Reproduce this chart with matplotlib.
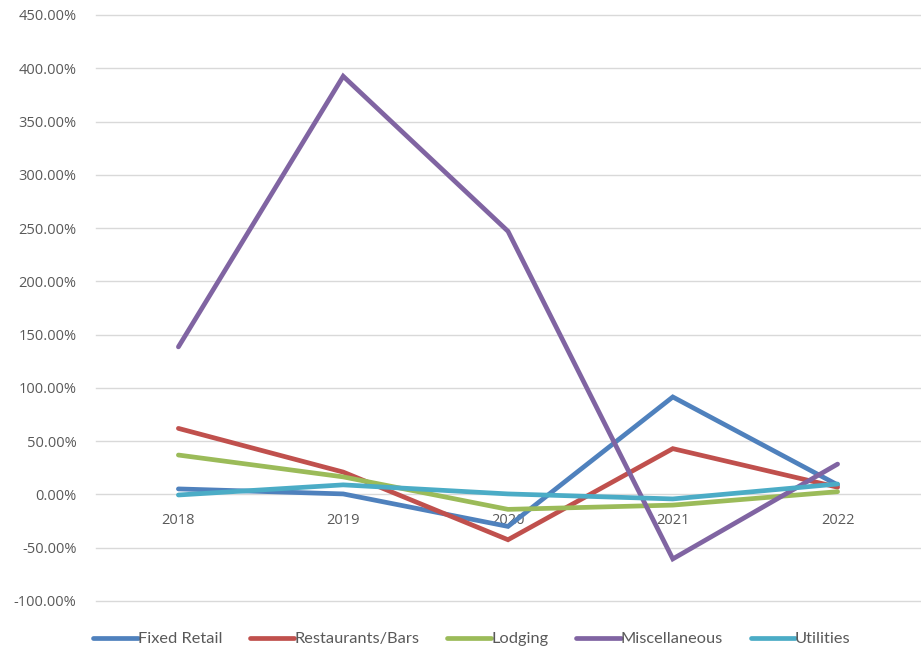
import matplotlib
matplotlib.use("Agg")
import matplotlib.pyplot as plt
from matplotlib.ticker import FuncFormatter, MultipleLocator

years = ["2018", "2019", "2020", "2021", "2022"]
fixed_retail = [5.2, 0.5, -30.0, 91.5, 9.0]
restaurants_bars = [62.0, 21.0, -42.5, 43.0, 6.8]
lodging = [37.0, 16.5, -14.0, -10.0, 2.6]
miscellaneous = [138.5, 392.5, 247.0, -60.5, 28.5]
utilities = [-0.5, 9.0, 0.5, -4.2, 9.8]

series = [
    ("Fixed Retail", fixed_retail, "#4F81BD"),
    ("Restaurants/Bars", restaurants_bars, "#C0504D"),
    ("Lodging", lodging, "#9BBB59"),
    ("Miscellaneous", miscellaneous, "#8064A2"),
    ("Utilities", utilities, "#4BACC6"),
]

W, H = 921, 652
fig = plt.figure(figsize=(W / 100, H / 100), dpi=100)
ax = fig.add_axes([96 / W, 1 - 601 / H, (920 - 96) / W, (601 - 15) / H])

x = list(range(len(years)))
for name, vals, col in series:
    ax.plot(x, vals, color=col, lw=3.4, label=name, solid_capstyle="round",
            solid_joinstyle="miter")

ax.set_xlim(-0.5, len(years) - 0.5)
ax.set_ylim(-100, 450)
ax.yaxis.set_major_locator(MultipleLocator(50))
ax.yaxis.set_major_formatter(FuncFormatter(lambda v, p: f"{v:.2f}%"))
ax.grid(axis="y", color="#D9D9D9", lw=1.0)
ax.set_axisbelow(True)
for gl in ax.get_ygridlines():
    gl.set_clip_on(False)
for s in ax.spines.values():
    s.set_visible(False)
ax.spines["bottom"].set_position(("data", 0))
ax.set_xticks(x)
ax.set_xticklabels(years)
ax.tick_params(axis="both", length=0, colors="#595959", labelsize=10.5)
ax.tick_params(axis="x", pad=13)
ax.tick_params(axis="y", pad=14)
for lab in ax.get_yticklabels() + ax.get_xticklabels():
    lab.set_fontfamily("Open Sans")
    lab.set_color("#595959")

leg = fig.legend(loc="center", bbox_to_anchor=(472 / W, 1 - 639 / H), ncol=5,
                 frameon=False, handlelength=2.7, handletextpad=0.0,
                 columnspacing=1.7, prop={"family": "Lato", "size": 11.8})
for t in leg.get_texts():
    t.set_color("#595959")

fig.savefig("out.png", dpi=100)
